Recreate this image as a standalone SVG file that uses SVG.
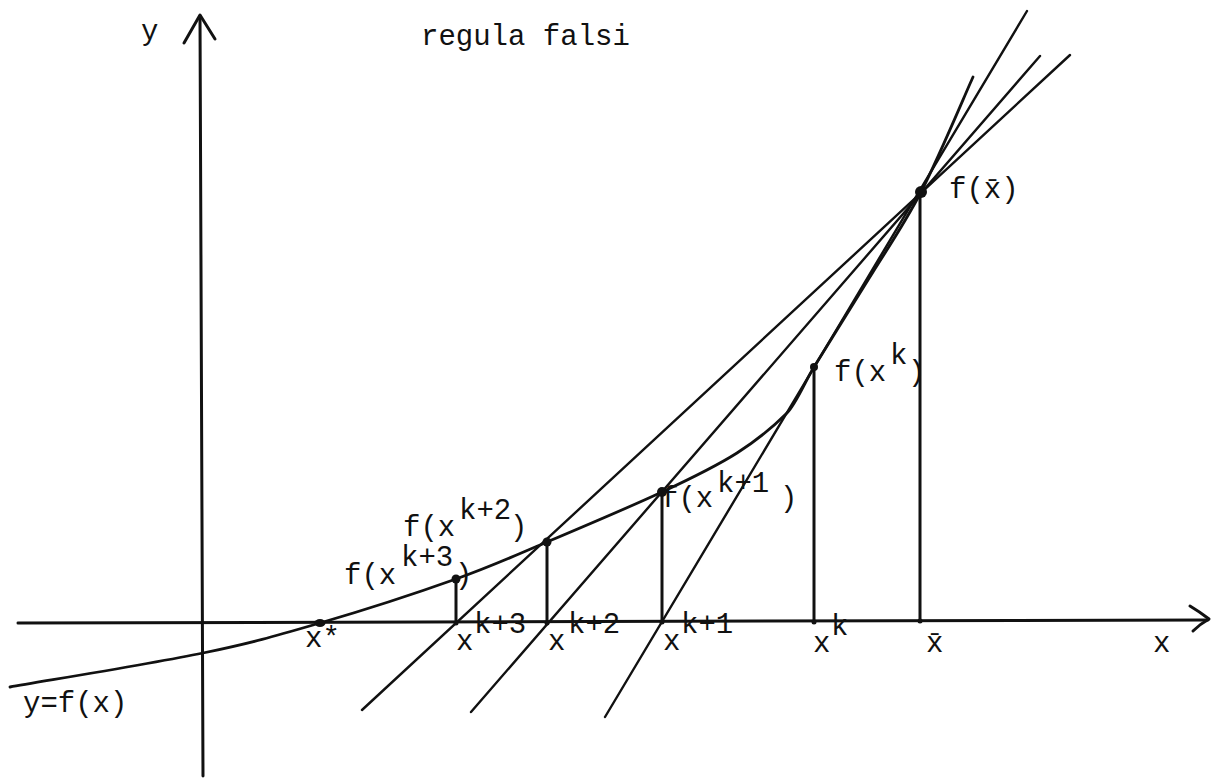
<svg xmlns="http://www.w3.org/2000/svg" width="1212" height="778" viewBox="0 0 1212 778">
<style>
.t{font-family:"Liberation Mono","DejaVu Sans Mono",monospace;font-size:29px;fill:#111}
.ax{stroke:#111;stroke-width:3;fill:none;stroke-linecap:round;stroke-linejoin:round}
.ln{stroke:#111;stroke-width:2.4;fill:none;stroke-linecap:round}
.vt{stroke:#111;stroke-width:3;fill:none}
.cv{stroke:#111;stroke-width:2.8;fill:none;stroke-linecap:round;stroke-linejoin:round}
.dot{fill:#111}
</style>
<rect width="1212" height="778" fill="#fff"/>
<g id="axes">
<path class="ax" d="M200,16 L203,776"/>
<path class="ax" d="M184,43 L200,15 L215,39"/>
<path class="ax" d="M18,623 L1208,620"/>
<path class="ax" d="M1190,606 Q1200,612 1209,619 Q1200,624 1193,631"/>
</g>
<g id="connectors">
<path class="ln" d="M1027,11 L605,717"/>
<path class="ln" d="M1040,56 L471,712"/>
<path class="ln" d="M1070,55 L362,710"/>
<path class="vt" d="M456,579 V624"/>
<path class="vt" d="M547,542 V623"/>
<path class="vt" d="M662,492 V622"/>
<path class="vt" d="M814,367 V622"/>
<path class="vt" d="M920,192 V622"/>
</g>
<g id="curve">
<path class="cv" d="M10,687 C42,681.3 151.3,663.7 203,653 C254.7,642.3 277.8,635.3 320,623 C362.2,610.7 418.2,592.5 456,579 C493.8,565.5 512.7,556.5 547,542 C581.3,527.5 630.3,506.8 662,492 C693.7,477.2 716.2,466.2 737,453 C757.8,439.8 777,423 787,413 C796,404 805,381.8 814,367 C832,337.5 850,309.5 868,280 C885.8,250.8 903.5,225.8 921,192 C938.5,158.2 964.3,96.2 973,77"/>
</g>
<g id="points">
<ellipse class="dot" cx="320" cy="623" rx="5.5" ry="4"/>
<circle class="dot" cx="456" cy="579" r="4.5"/>
<circle class="dot" cx="547" cy="542" r="4.5"/>
<circle class="dot" cx="662" cy="492" r="5"/>
<circle class="dot" cx="814" cy="367" r="4"/>
<circle class="dot" cx="921" cy="192" r="6"/>
<circle class="dot" cx="456" cy="623" r="2.5"/>
<circle class="dot" cx="547" cy="623" r="2.5"/>
<circle class="dot" cx="662" cy="622" r="2.5"/>
<circle class="dot" cx="814" cy="622" r="2.5"/>
<circle class="dot" cx="920" cy="621" r="2.5"/>
</g>
<g id="labels">
<text class="t" x="141" y="40">y</text>
<text class="t" x="421" y="45">regula falsi</text>
<text class="t" x="1153" y="652">x</text>
<text class="t" x="23" y="712">y=f(x)</text>
<text class="t" x="305" y="647">x*</text>
<g id="lbl-xk3"><text class="t" x="456" y="650">x</text><text class="t" x="474" y="633">k+3</text></g>
<g id="lbl-xk2"><text class="t" x="548" y="650">x</text><text class="t" x="568" y="633">k+2</text></g>
<g id="lbl-xk1"><text class="t" x="663" y="650">x</text><text class="t" x="681" y="633">k+1</text></g>
<g id="lbl-xk"><text class="t" x="813" y="652">x</text><text class="t" x="831" y="635">k</text></g>
<text class="t" x="926" y="652">x̄</text>
<g id="lbl-fk3"><text class="t" x="344" y="584">f(x</text><text class="t" x="401" y="566">k+3</text><text class="t" x="455" y="584">)</text></g>
<g id="lbl-fk2"><text class="t" x="403" y="536">f(x</text><text class="t" x="459" y="519">k+2</text><text class="t" x="510" y="536">)</text></g>
<g id="lbl-fk1"><text class="t" x="661" y="507">f(x</text><text class="t" x="717" y="492">k+1</text><text class="t" x="780" y="507">)</text></g>
<g id="lbl-fk"><text class="t" x="834" y="381">f(x</text><text class="t" x="890" y="364">k</text><text class="t" x="908" y="381">)</text></g>
<text class="t" x="949" y="198">f(x̄)</text>
</g>
</svg>
